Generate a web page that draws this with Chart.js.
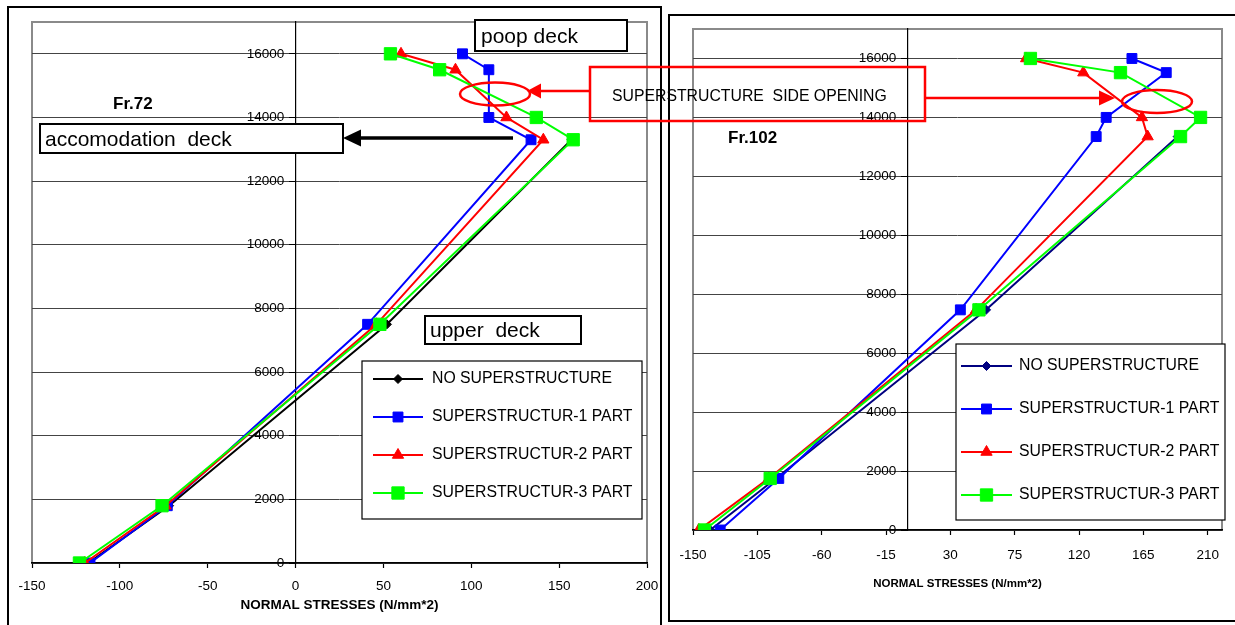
<!DOCTYPE html>
<html>
<head>
<meta charset="utf-8">
<title>Normal stresses - Fr.72 / Fr.102</title>
<script src="https://cdn.jsdelivr.net/npm/chart.js@4.4.1/dist/chart.umd.min.js"></script>
<style>
    html, body { margin: 0; padding: 0; background: #fff; }
    body { width: 1235px; height: 625px; position: relative; overflow: hidden; font-family: 'Liberation Sans', Arial, sans-serif; }
    .frame { position: absolute; border: 2px solid #000; box-sizing: border-box; }
    #frameL { left: 7px; top: 6px; width: 655px; height: 700px; }
    #frameR { left: 668px; top: 14px; width: 600px; height: 608px; }
    canvas { position: absolute; top: 0; }
    #chartL { left: 0; }
    #chartR { left: 662px; }
    #notes { position: absolute; left: 0; top: 0; z-index: 5; }
    #notes text { font-family: 'Liberation Sans', Arial, sans-serif; white-space: pre; }
</style>
</head>
<body>
<div class="frame" id="frameL"></div>
<div class="frame" id="frameR"></div>
<canvas id="chartL" width="700" height="625"></canvas>
<canvas id="chartR" width="573" height="625"></canvas>

<svg id="notes" width="1235" height="625" xmlns="http://www.w3.org/2000/svg">
    <!-- deck labels, Fr.72 -->
    <text x="113" y="109" font-size="17" font-weight="bold">Fr.72</text>
    <rect x="40" y="124" width="303" height="29" fill="#fff" stroke="#000" stroke-width="2"/>
    <text x="45" y="146" font-size="21" xml:space="preserve">accomodation  deck</text>
    <rect x="475" y="20" width="152" height="31" fill="#fff" stroke="#000" stroke-width="2"/>
    <text x="481" y="43" font-size="21">poop deck</text>
    <rect x="425" y="316" width="156" height="28" fill="#fff" stroke="#000" stroke-width="2"/>
    <text x="430" y="337" font-size="21" xml:space="preserve">upper  deck</text>
    <!-- black arrow to accomodation deck -->
    <line x1="513" y1="138" x2="358" y2="138" stroke="#000" stroke-width="3.5"/>
    <polygon points="343,138 361,129.5 361,146.5" fill="#000"/>

    <!-- Fr.102 -->
    <text x="728" y="143" font-size="17" font-weight="bold">Fr.102</text>

    <!-- side opening callout -->
    <rect x="590" y="67" width="335" height="54" fill="none" stroke="#ff0000" stroke-width="2.5"/>
    <text x="612" y="101" font-size="15.8" xml:space="preserve">SUPERSTRUCTURE  SIDE OPENING</text>
    <line x1="590" y1="91" x2="538" y2="91" stroke="#ff0000" stroke-width="2.5"/>
    <polygon points="527,91 541,83.5 541,98.5" fill="#ff0000"/>
    <ellipse cx="495" cy="94" rx="35" ry="11.5" fill="none" stroke="#ff0000" stroke-width="2.5"/>
    <line x1="925" y1="98" x2="1102" y2="98" stroke="#ff0000" stroke-width="2.5"/>
    <polygon points="1115,98 1099,90.5 1099,105.5" fill="#ff0000"/>
    <ellipse cx="1157" cy="101.5" rx="35" ry="11.5" fill="none" stroke="#ff0000" stroke-width="2.5"/>
</svg>

<script>
// ==========================================
// 1. DATA (height above base line, mm / normal stress, N/mm2)
// ==========================================
const seriesNames = ['NO SUPERSTRUCTURE', 'SUPERSTRUCTUR-1 PART', 'SUPERSTRUCTUR-2 PART', 'SUPERSTRUCTUR-3 PART'];

// Fr.72
const fr72Height = [0, 1800, 7500, 13300, 14000, 15500, 16000];
const fr72None  = [-118, -72, 52, 157];
const fr72Part1 = [-117, -73, 41, 134, 110, 110, 95];
const fr72Part2 = [-120, -74, 46, 141, 120, 91, 60];
const fr72Part3 = [-123, -76, 48, 158, 137, 82, 54];

// Fr.102
const fr102Height = [0, 1750, 7470, 13350, 14000, 15520, 16000];
const fr102None  = [-138, -92, 55, 189];
const fr102Part1 = [-131, -90, 37, 132, 139, 181, 157];
const fr102Part2 = [-146, -97, 48, 168, 164, 123, 83];
const fr102Part3 = [-142, -96, 50, 191, 205, 149, 86];

// axis ticks
const fr72StressTicks  = [-150, -100, -50, 0, 50, 100, 150, 200];
const fr102StressTicks = [-150, -105, -60, -15, 30, 75, 120, 165, 210];
const heightTicks = [0, 2000, 4000, 6000, 8000, 10000, 12000, 14000, 16000];
const fr72Range  = { min: -150, max: 200 };
const fr102Range = { min: -150, max: 220 };
const heightRange = { min: 0, max: 17000 };

// ==========================================
// 2. PLUGINS
// ==========================================
// grey frame round the plot area (Excel style)
const plotFrame = {
    id: 'plotFrame',
    beforeDraw(chart) {
        const { ctx, chartArea: a } = chart;
        ctx.save();
        ctx.strokeStyle = '#8a8a8a';
        ctx.lineWidth = 2;
        ctx.strokeRect(a.left, a.top, a.right - a.left, a.bottom - a.top);
        ctx.restore();
    }
};

function drawMarker(ctx, style, r, x, y) {
    if (Chart.helpers && Chart.helpers.drawPoint) {
        Chart.helpers.drawPoint(ctx, { pointStyle: style, radius: r, rotation: 0, borderWidth: 1 }, x, y);
        return;
    }
    ctx.beginPath();
    if (style === 'rect') {
        const s = r * Math.SQRT1_2;
        ctx.rect(x - s, y - s, 2 * s, 2 * s);
    } else if (style === 'triangle') {
        ctx.moveTo(x, y - r);
        ctx.lineTo(x + r * 0.866, y + r / 2);
        ctx.lineTo(x - r * 0.866, y + r / 2);
        ctx.closePath();
    } else {
        ctx.moveTo(x, y - r); ctx.lineTo(x + r, y); ctx.lineTo(x, y + r); ctx.lineTo(x - r, y);
        ctx.closePath();
    }
    ctx.fill();
    ctx.stroke();
}

// boxed legend inside the plot area
const boxLegend = {
    id: 'boxLegend',
    afterDatasetsDraw(chart, args, o) {
        const { ctx, chartArea } = chart;
        const x = chartArea.left + o.x, y = chartArea.top + o.y;
        ctx.save();
        ctx.fillStyle = '#fff';
        ctx.fillRect(x, y, o.w, o.h);
        ctx.strokeStyle = '#000';
        ctx.lineWidth = 1.2;
        ctx.strokeRect(x, y, o.w, o.h);
        ctx.font = "15.8px 'Liberation Sans', Arial, sans-serif";
        ctx.textBaseline = 'middle';
        o.order.forEach((idx, row) => {
            const ds = chart.data.datasets[idx];
            const ry = y + o.rowTop + row * o.rowGap;
            ctx.strokeStyle = ds.borderColor;
            ctx.lineWidth = ds.borderWidth;
            ctx.beginPath();
            ctx.moveTo(x + o.lineX, ry);
            ctx.lineTo(x + o.lineX + o.lineLen, ry);
            ctx.stroke();
            ctx.fillStyle = ds.borderColor;
            ctx.strokeStyle = ds.borderColor;
            ctx.lineWidth = 1;
            drawMarker(ctx, ds.pointStyle, ds.pointRadius, x + o.lineX + o.lineLen / 2, ry);
            ctx.fillStyle = '#000';
            ctx.fillText(ds.label, x + o.textX, ry);
        });
        ctx.restore();
    }
};

// ==========================================
// 3. CHART BUILDER
// ==========================================
function toPoints(xs, ys) {
    return xs.map((v, i) => ({ x: v, y: ys[i] }));
}

function series(label, xs, ys, color, style, radius, order) {
    return {
        label: label,
        data: toPoints(xs, ys),
        showLine: true,
        borderColor: color,
        backgroundColor: color,
        pointBackgroundColor: color,
        pointBorderColor: color,
        borderWidth: 2,
        pointStyle: style,
        pointRadius: radius,
        pointBorderWidth: 1,
        order: order
    };
}

function makeChart(canvasId, datasets, xRange, xTicks, look) {
    const tickFont = { family: "'Liberation Sans', Arial, sans-serif", size: 13.5 };
    return new Chart(document.getElementById(canvasId), {
        type: 'scatter',
        data: { datasets: datasets },
        options: {
            responsive: false,
            animation: false,
            events: [],
            layout: { padding: look.padding },
            plugins: {
                legend: { display: false },
                tooltip: { enabled: false },
                boxLegend: look.legend
            },
            scales: {
                x: {
                    type: 'linear',
                    position: 'bottom',
                    min: xRange.min,
                    max: xRange.max,
                    ticks: { color: '#000', font: tickFont, padding: look.xTickPad, maxRotation: 0, autoSkip: false, callback: v => String(v) },
                    afterBuildTicks: s => { s.ticks = xTicks.map(v => ({ value: v })); },
                    grid: { drawOnChartArea: false, tickLength: 5, tickColor: '#000', tickWidth: 1.2 },
                    border: { color: '#000', width: 1.5 },
                    title: {
                        display: true,
                        text: 'NORMAL STRESSES (N/mm*2)',
                        color: '#000',
                        font: { family: "'Liberation Sans', Arial, sans-serif", size: look.titleSize, weight: 'bold' },
                        padding: { top: 0, bottom: look.titlePad }
                    },
                    afterFit: s => { s.height = look.xAxisHeight; }
                },
                y: {
                    type: 'linear',
                    position: { x: 0 },
                    min: heightRange.min,
                    max: heightRange.max,
                    // labels of an axis placed at x = 0 sit flush on the line; pad them with spaces
                    ticks: { color: '#000', font: tickFont, autoSkip: false, callback: v => String(v) + '\u00a0\u00a0\u00a0' },
                    afterBuildTicks: s => { s.ticks = heightTicks.map(v => ({ value: v })); },
                    grid: { color: '#444', lineWidth: 1, tickLength: 6, tickColor: '#000' },
                    border: { display: true, color: '#000', width: 1.2 }
                }
            }
        },
        plugins: [plotFrame, boxLegend]
    });
}

// ==========================================
// 4. DRAW BOTH FRAMES
// ==========================================
makeChart('chartL', [
    series(seriesNames[0], fr72None,  fr72Height.slice(0, 4), '#000000', 'rectRot', 4.5, 4),
    series(seriesNames[1], fr72Part1, fr72Height, '#0000ff', 'rect', 7, 3),
    series(seriesNames[2], fr72Part2, fr72Height, '#ff0000', 'triangle', 6.5, 2),
    series(seriesNames[3], fr72Part3, fr72Height, '#00ff00', 'rect', 8.7, 1)
], fr72Range, fr72StressTicks, {
    padding: { left: 32, top: 22, right: 53, bottom: 0 },
    xAxisHeight: 62,
    xTickPad: 10.5,
    titleSize: 13.5,
    titlePad: 12,
    legend: { x: 330, y: 339, w: 280, h: 158, rowTop: 18, rowGap: 38, lineX: 11, lineLen: 50, textX: 70, order: [0, 1, 2, 3] }
});

makeChart('chartR', [
    series(seriesNames[0], fr102None,  fr102Height.slice(0, 4), '#000080', 'rectRot', 4.5, 4),
    series(seriesNames[1], fr102Part1, fr102Height, '#0000ff', 'rect', 7, 3),
    series(seriesNames[2], fr102Part2, fr102Height, '#ff0000', 'triangle', 6.5, 2),
    series(seriesNames[3], fr102Part3, fr102Height, '#00ff00', 'rect', 8.7, 1)
], fr102Range, fr102StressTicks, {
    padding: { left: 31, top: 29, right: 13, bottom: 0 },
    xAxisHeight: 95,
    xTickPad: 12.5,
    titleSize: 11.5,
    titlePad: 34,
    legend: { x: 263, y: 315, w: 269, h: 176, rowTop: 22, rowGap: 43, lineX: 5, lineLen: 51, textX: 63, order: [0, 1, 2, 3] }
});
</script>
</body>
</html>
